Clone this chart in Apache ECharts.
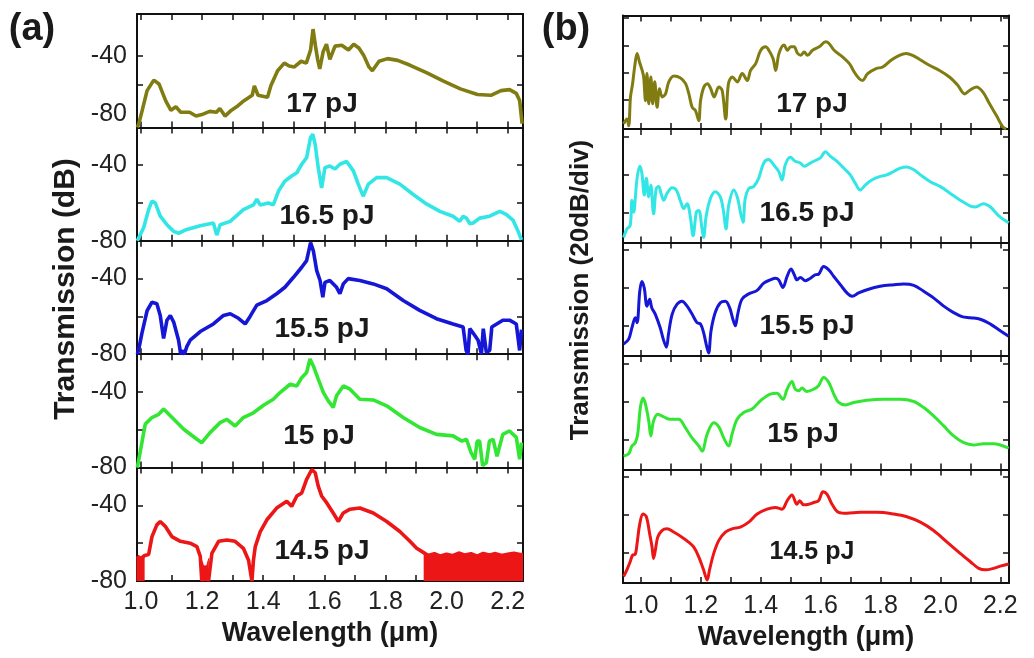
<!DOCTYPE html>
<html><head><meta charset="utf-8">
<script src="https://cdn.jsdelivr.net/npm/echarts@6/dist/echarts.min.js"></script>
<style>html,body{margin:0;padding:0;background:#fff}#c{width:1034px;height:658px}</style>
</head><body><div id="c"></div>
<script>
// ---------- data ----------
const energies = ['17 pJ', '16.5 pJ', '15.5 pJ', '15 pJ', '14.5 pJ'];
const colors = ['#807c12', '#33e6e6', '#1616d6', '#33e633', '#ec1616'];
const xTickValues = [1.0, 1.1, 1.2, 1.3, 1.4, 1.5, 1.6, 1.7, 1.8, 1.9, 2.0, 2.1, 2.2];
const xLabelValues = [1.0, 1.2, 1.4, 1.6, 1.8, 2.0, 2.2];
const yTickA = [-60, -40];
const yLabelA = [-80, -40];
const yTickB = [0, -20, -40];
const yTickB1 = [20, 0, -20, -40];
// y ranges of each stacked panel (top to bottom)
const yRangeA = [[-89, -11], [-80, -20], [-80, -20], [-80, -20], [-80, -20]];
const yRangeB = [[-61.3, 21.9], [-56, 4], [-56, 4], [-56, 4], [-56, 4]];

// (a) measured spectra, dB
const a17 = [[0.988,-89],[0.993,-86.4],[1.004,-77.3],[1.020,-63.7],[1.042,-56.5],[1.059,-59.1],[1.081,-70.8],[1.098,-77.3],[1.114,-74.7],[1.130,-78.6],[1.159,-78.6],[1.180,-81.2],[1.203,-79.9],[1.225,-78],[1.247,-78.6],[1.258,-76],[1.275,-81.2],[1.295,-77.3],[1.314,-74.7],[1.336,-70.8],[1.364,-66.9],[1.371,-60.4],[1.383,-66.9],[1.414,-68.2],[1.425,-60.4],[1.447,-50],[1.469,-44.8],[1.485,-46.8],[1.502,-47.4],[1.524,-43.5],[1.541,-44.8],[1.555,-35.7],[1.563,-21.4],[1.571,-33.1],[1.578,-42.2],[1.585,-48.7],[1.596,-37],[1.607,-31.8],[1.618,-42.2],[1.635,-33.1],[1.657,-32.5],[1.679,-35.7],[1.696,-31.8],[1.713,-34.4],[1.729,-39.6],[1.746,-47.4],[1.757,-50],[1.779,-43.5],[1.807,-41.7],[1.840,-42.9],[1.879,-46.1],[1.934,-51.3],[1.990,-57.2],[2.045,-62.5],[2.101,-66.4],[2.145,-66.9],[2.178,-63.7],[2.206,-63],[2.228,-65.6],[2.239,-70.5],[2.247,-86.4]];
const a165 = [[0.988,-80],[0.992,-79.5],[1.009,-73],[1.025,-63.5],[1.036,-59],[1.047,-60],[1.063,-67],[1.085,-71.5],[1.107,-75],[1.123,-76],[1.150,-74],[1.194,-72],[1.237,-70.6],[1.248,-77],[1.259,-71.5],[1.292,-69.7],[1.335,-63.5],[1.368,-61],[1.379,-58],[1.390,-61],[1.417,-60],[1.433,-61],[1.450,-53.7],[1.471,-48.4],[1.493,-45.7],[1.510,-44],[1.526,-39.5],[1.542,-36],[1.555,-25.3],[1.562,-23.6],[1.570,-29],[1.580,-41.3],[1.591,-52],[1.602,-41.3],[1.618,-40.4],[1.635,-42],[1.651,-39.5],[1.673,-38],[1.695,-43],[1.711,-50],[1.727,-56.4],[1.744,-50],[1.771,-46.6],[1.804,-46.6],[1.847,-50],[1.891,-55.5],[1.934,-60.5],[1.978,-64.4],[2.021,-67],[2.043,-69.7],[2.054,-67],[2.065,-68],[2.076,-71],[2.087,-70.6],[2.108,-68],[2.141,-67],[2.174,-64.4],[2.195,-66],[2.217,-69],[2.234,-75],[2.245,-79.5]];
const a155 = [[0.988,-80],[0.992,-78],[1.003,-69],[1.020,-57],[1.036,-52.5],[1.052,-53.3],[1.063,-59.5],[1.074,-71.7],[1.085,-62],[1.096,-59.5],[1.107,-63],[1.123,-72.6],[1.130,-80],[1.134,-78],[1.142,-80],[1.150,-76],[1.161,-72.6],[1.194,-68],[1.237,-64],[1.270,-59.5],[1.292,-58.6],[1.319,-61],[1.341,-64],[1.357,-60],[1.379,-54],[1.412,-51.6],[1.444,-48],[1.471,-44.6],[1.499,-39.3],[1.526,-34],[1.542,-30.5],[1.555,-21],[1.564,-25.3],[1.575,-35.8],[1.586,-41],[1.595,-49.8],[1.602,-42],[1.618,-41],[1.640,-44.6],[1.651,-48],[1.662,-42.8],[1.678,-40],[1.716,-41],[1.760,-42.8],[1.804,-45.4],[1.858,-51.6],[1.912,-56.8],[1.967,-61.2],[2.021,-64],[2.054,-65.6],[2.064,-78],[2.070,-80],[2.076,-66.5],[2.092,-70],[2.103,-72.6],[2.114,-80],[2.120,-66.5],[2.130,-79],[2.141,-78],[2.148,-65.6],[2.184,-62],[2.206,-62],[2.228,-64],[2.239,-78],[2.245,-67]];
const a15 = [[0.988,-80],[0.992,-79],[1.003,-66.8],[1.014,-57],[1.036,-53.5],[1.058,-51.8],[1.074,-49],[1.096,-52.6],[1.140,-59.7],[1.183,-65],[1.199,-66.8],[1.226,-61.5],[1.259,-56.2],[1.281,-54.5],[1.308,-58],[1.335,-53.5],[1.368,-51],[1.401,-47],[1.433,-43.8],[1.455,-40.3],[1.488,-35.9],[1.510,-36.8],[1.526,-32.4],[1.542,-29.7],[1.553,-22.5],[1.564,-26.2],[1.580,-33.2],[1.597,-40.3],[1.613,-44.7],[1.629,-48.2],[1.640,-42],[1.662,-36.8],[1.684,-38.5],[1.716,-43.8],[1.760,-44.2],[1.804,-47.3],[1.858,-53.5],[1.912,-58.8],[1.967,-62.4],[2.021,-63.2],[2.050,-66],[2.065,-65],[2.080,-72],[2.092,-75.6],[2.100,-66],[2.108,-65.9],[2.118,-79],[2.130,-77.4],[2.140,-66],[2.152,-65],[2.165,-74],[2.184,-62.4],[2.206,-60.6],[2.228,-64],[2.239,-75.6],[2.245,-66.8]];
const a145 = [[0.988,-67],[1.000,-68],[1.012,-66.5],[1.025,-66],[1.036,-56.5],[1.052,-50.3],[1.063,-48.5],[1.080,-51.2],[1.101,-56.5],[1.129,-59],[1.161,-60],[1.183,-61.8],[1.194,-67],[1.199,-80],[1.210,-74],[1.221,-80],[1.232,-65.4],[1.254,-59],[1.281,-58.3],[1.308,-59],[1.335,-62.7],[1.352,-69],[1.363,-80],[1.368,-69],[1.374,-61.8],[1.390,-54],[1.412,-47.6],[1.444,-41.4],[1.477,-37.8],[1.493,-40.5],[1.510,-35],[1.526,-33.4],[1.542,-26.2],[1.559,-21],[1.570,-22.7],[1.580,-29.8],[1.591,-35],[1.608,-38.7],[1.629,-44],[1.646,-48.5],[1.662,-44],[1.684,-42],[1.716,-41.4],[1.760,-44],[1.804,-48.5],[1.847,-53.8],[1.880,-59],[1.902,-62.7],[1.925,-65],[1.940,-66.5],[1.960,-65.5],[1.980,-66.8],[2.000,-65.8],[2.020,-66.6],[2.040,-65.2],[2.060,-66.3],[2.080,-65.6],[2.100,-66.9],[2.120,-65.4],[2.140,-66.2],[2.160,-65.5],[2.180,-66.5],[2.200,-65.8],[2.220,-65.3],[2.240,-66],[2.250,-66]];
const a145floorLeft = [[0.985,-67],[0.993,-68],[1.003,-67],[1.012,-66.5]];
const a145floorDip = [[1.194,-67],[1.205,-72],[1.215,-72],[1.222,-68]];
const a145floorRight = [[1.925,-65],[1.940,-66.5],[1.960,-65.5],[1.980,-66.8],[2.000,-65.8],[2.020,-66.6],[2.040,-65.2],[2.060,-66.3],[2.080,-65.6],[2.100,-66.9],[2.120,-65.4],[2.140,-66.2],[2.160,-65.5],[2.180,-66.5],[2.200,-65.8],[2.220,-65.3],[2.240,-66],[2.250,-66]];

// (b) simulated spectra, relative dB (20 dB/div)
const b17 = [[0.942,-57.5],[0.953,-53.9],[0.959,-58.8],[0.965,-37.7],[0.972,-28],[0.979,-15.5],[0.987,-5.8],[0.995,-12.1],[1.004,-18.3],[1.009,-23.1],[1.015,-40.5],[1.020,-20.6],[1.026,-42.8],[1.033,-23.1],[1.039,-42.8],[1.046,-26.6],[1.054,-45.3],[1.062,-31.7],[1.071,-37.7],[1.082,-35.5],[1.093,-26.6],[1.110,-22.4],[1.132,-23.8],[1.149,-28],[1.160,-35.5],[1.171,-45.3],[1.182,-47.7],[1.193,-55.2],[1.199,-40.5],[1.210,-30.5],[1.222,-28],[1.233,-31.7],[1.244,-37.7],[1.260,-30.5],[1.271,-32.8],[1.283,-53.9],[1.292,-28],[1.305,-23.1],[1.322,-26.7],[1.338,-20.6],[1.355,-25.6],[1.366,-18.3],[1.383,-13.3],[1.400,-3.5],[1.416,-1],[1.427,-3.5],[1.441,-9.6],[1.450,-18.3],[1.461,-5.8],[1.478,0.3],[1.489,-3.5],[1.500,-1],[1.511,-1],[1.523,-5.8],[1.534,-7.2],[1.545,-4.7],[1.556,-7.2],[1.573,-3.5],[1.595,-1],[1.617,2.8],[1.628,1.5],[1.645,-3.5],[1.673,-8.3],[1.696,-13.3],[1.712,-19.4],[1.729,-24.4],[1.740,-25.6],[1.757,-20.6],[1.785,-16.9],[1.807,-15.8],[1.835,-10.8],[1.863,-7.2],[1.885,-5.8],[1.907,-7.2],[1.935,-10.8],[1.963,-14.5],[1.997,-18.3],[2.030,-23.1],[2.058,-29.2],[2.081,-35.5],[2.097,-33],[2.120,-30.5],[2.142,-34.2],[2.164,-42.8],[2.187,-51.4],[2.209,-59.9],[2.220,-61.2]];
const b165 = [[0.942,-53.3],[0.953,-48.8],[0.964,-47],[0.970,-33.6],[0.976,-39.9],[0.981,-32.7],[0.987,-22],[0.996,-15.7],[1.003,-19.3],[1.011,-30.9],[1.018,-22],[1.026,-31.8],[1.033,-25.6],[1.042,-40.8],[1.051,-27.4],[1.059,-26.4],[1.067,-30],[1.076,-33.6],[1.087,-30],[1.104,-27],[1.118,-28.2],[1.131,-33.6],[1.143,-38],[1.154,-35.4],[1.165,-42.6],[1.174,-52.4],[1.185,-39.9],[1.193,-39],[1.204,-48.8],[1.209,-53.3],[1.218,-41.7],[1.232,-32.7],[1.248,-29.1],[1.265,-31.8],[1.276,-39.9],[1.284,-48.8],[1.293,-36.3],[1.310,-28.2],[1.323,-32.7],[1.332,-39.9],[1.341,-45.3],[1.348,-32.7],[1.360,-27.4],[1.376,-26.4],[1.393,-22],[1.410,-13.9],[1.426,-12.1],[1.443,-14.8],[1.460,-18.4],[1.471,-22.9],[1.482,-14.8],[1.499,-10.9],[1.515,-13],[1.532,-13.9],[1.545,-15.7],[1.560,-14.5],[1.577,-13],[1.599,-11.2],[1.616,-8],[1.632,-10.3],[1.655,-13],[1.677,-16.6],[1.699,-20.2],[1.716,-24.7],[1.732,-28.2],[1.749,-25.6],[1.771,-22.9],[1.799,-21],[1.821,-20.2],[1.844,-18.4],[1.866,-16.6],[1.888,-16],[1.911,-17.5],[1.933,-20.2],[1.966,-23.8],[2.000,-26.4],[2.033,-30],[2.066,-33.6],[2.100,-36.7],[2.117,-37.2],[2.144,-35.4],[2.167,-37.2],[2.194,-41.7],[2.228,-45.5]];
const b155 = [[0.942,-49.6],[0.959,-47],[0.970,-40.9],[0.981,-35.7],[0.987,-38.3],[0.996,-21.7],[1.003,-16.5],[1.011,-20],[1.020,-29.6],[1.029,-26],[1.036,-30.4],[1.048,-33.9],[1.064,-40.9],[1.076,-47.8],[1.085,-51.3],[1.092,-44.3],[1.104,-33.9],[1.120,-28.7],[1.137,-27],[1.154,-29.6],[1.171,-33.9],[1.187,-38.3],[1.199,-39.1],[1.209,-43.5],[1.220,-51.3],[1.226,-54.4],[1.234,-42.6],[1.248,-33],[1.265,-27.8],[1.282,-27],[1.296,-30.4],[1.307,-36.5],[1.315,-40],[1.323,-33.9],[1.337,-26],[1.360,-23.1],[1.387,-21.4],[1.410,-17.4],[1.432,-15.7],[1.449,-14.8],[1.460,-15.7],[1.474,-19.7],[1.488,-13.9],[1.501,-9.9],[1.512,-13],[1.521,-15.7],[1.532,-14.4],[1.549,-16.2],[1.566,-14.8],[1.582,-13],[1.593,-12.7],[1.610,-8.7],[1.627,-10.4],[1.644,-13.9],[1.666,-18.3],[1.688,-22.6],[1.705,-24.3],[1.727,-22.6],[1.755,-20.9],[1.799,-19.1],[1.844,-18.3],[1.877,-17.9],[1.911,-18.6],[1.944,-21.7],[1.977,-25.2],[2.011,-29.6],[2.044,-33],[2.072,-35.1],[2.100,-35.7],[2.133,-36.5],[2.167,-39.1],[2.200,-42.6],[2.228,-45.5]];
const b15 = [[0.942,-48.8],[0.959,-47.6],[0.970,-43.5],[0.981,-41.8],[0.989,-37.3],[0.998,-23.2],[1.007,-18.2],[1.015,-21.4],[1.026,-30.3],[1.033,-38.2],[1.042,-30.3],[1.056,-26.7],[1.076,-28.1],[1.098,-29.4],[1.126,-29.4],[1.148,-33.8],[1.170,-39.1],[1.193,-43.5],[1.204,-46.2],[1.221,-37.3],[1.243,-31.2],[1.260,-33.4],[1.276,-39.1],[1.293,-43.5],[1.304,-37.3],[1.321,-29.4],[1.343,-25.8],[1.371,-24],[1.399,-19.6],[1.432,-16.1],[1.454,-15.7],[1.474,-18.8],[1.488,-13.5],[1.504,-9.4],[1.515,-13.5],[1.527,-14.3],[1.538,-12.9],[1.554,-14.7],[1.577,-13.5],[1.593,-11.7],[1.610,-7.3],[1.627,-9.9],[1.644,-16.1],[1.660,-20.5],[1.683,-21.8],[1.710,-20.5],[1.755,-19.3],[1.810,-18.8],[1.866,-18.8],[1.911,-20],[1.944,-23.2],[1.977,-27.6],[2.011,-32.9],[2.044,-38.2],[2.078,-41.8],[2.111,-43],[2.144,-42.3],[2.178,-42.3],[2.200,-43],[2.228,-44.6]];
const b145 = [[0.942,-52.5],[0.953,-49],[0.964,-44.7],[0.972,-41.2],[0.981,-40.7],[0.987,-35.1],[0.996,-24.7],[1.007,-19.5],[1.018,-20.9],[1.029,-29.9],[1.037,-36.9],[1.042,-43],[1.048,-38.6],[1.056,-31.7],[1.070,-28.2],[1.087,-27.3],[1.109,-29],[1.137,-31.7],[1.159,-34.3],[1.176,-36.9],[1.193,-42.1],[1.209,-49],[1.221,-54.3],[1.229,-49],[1.243,-40.3],[1.260,-33.4],[1.282,-29],[1.304,-27.3],[1.332,-26.4],[1.360,-23.8],[1.388,-19.5],[1.421,-16.9],[1.449,-16],[1.471,-16.9],[1.488,-12.5],[1.504,-9.4],[1.521,-14.3],[1.530,-12.5],[1.543,-14.6],[1.560,-14.3],[1.577,-13.4],[1.593,-12.5],[1.608,-7.7],[1.621,-9],[1.638,-14.3],[1.660,-18.6],[1.688,-19.1],[1.732,-18.6],[1.788,-18.6],[1.844,-19.5],[1.888,-20.9],[1.933,-23.8],[1.977,-28.2],[2.022,-34.3],[2.066,-40.3],[2.100,-44.7],[2.128,-48.2],[2.150,-49],[2.178,-48.2],[2.200,-47],[2.228,-45.9]];

const seriesA = [a17, a165, a155, a15, a145];
const seriesB = [b17, b165, b155, b15, b145];

// ---------- layout ----------
const A = {left: 137, top: 14, w: 386, h: 113.4, xmin: 0.987, xmax: 2.25, yr: yRangeA};
const B = {left: 623, top: 15.6, w: 386, h: 113.5, xmin: 0.94, xmax: 2.229, yr: yRangeB};
const FONT = '"Liberation Sans", Arial, sans-serif';

const grid = [], xAxis = [], yAxis = [], series = [];
const line = {show: true, onZero: false, lineStyle: {color: '#111', width: 2}};
function addPanel(P, isA, data) {
  for (let i = 0; i < 5; i++) {
    const g = grid.length;
    grid.push({left: P.left, top: P.top + P.h * i, width: P.w, height: P.h, containLabel: false});
    const last = i === 4;
    const xBase = {type: 'value', gridIndex: g, min: P.xmin, max: P.xmax, splitLine: {show: false}, axisLine: line,
      axisTick: {show: true, inside: true, length: 6, customValues: xTickValues, lineStyle: {color: '#111', width: 1.5}}};
    xAxis.push(Object.assign({}, xBase, {position: 'bottom',
      axisLabel: {show: last, customValues: xLabelValues, formatter: v => v.toFixed(1), fontFamily: FONT, fontSize: 25, color: '#222', margin: isA ? 9 : 11}}));
    xAxis.push(Object.assign({}, xBase, {position: 'top', axisLabel: {show: false}}));
    const ticks = isA ? yTickA : (i === 0 ? yTickB1 : yTickB);
    const yBase = {type: 'value', gridIndex: g, min: P.yr[i][0], max: P.yr[i][1], splitLine: {show: false}, axisLine: line,
      axisTick: {show: true, inside: true, length: 6, customValues: ticks, lineStyle: {color: '#111', width: 1.5}}};
    yAxis.push(Object.assign({}, yBase, {position: 'left',
      axisLabel: {show: isA, customValues: yLabelA, fontFamily: FONT, fontSize: 25, color: '#222', margin: 10}}));
    yAxis.push(Object.assign({}, yBase, {position: 'right', axisLabel: {show: false}}));
    const xi = 2 * g, yi = 2 * g;
    series.push({type: 'line', xAxisIndex: xi, yAxisIndex: yi, data: data[i], showSymbol: false, clip: true,
      smooth: isA ? false : 0.35, lineStyle: {color: colors[i], width: isA ? 3.6 : 3}, z: 3});
    if (isA && i === 4) {
      [a145floorLeft, a145floorDip, a145floorRight].forEach(d => series.push({type: 'line', xAxisIndex: xi, yAxisIndex: yi, data: d,
        showSymbol: false, clip: true, lineStyle: {color: colors[4], width: 1}, areaStyle: {color: colors[4], opacity: 1, origin: 'start'}, z: 2}));
    }
  }
}
addPanel(A, true, seriesA);
addPanel(B, false, seriesB);

const labelPosA = [[322, 104], [327, 216], [322, 329], [319, 436], [322, 551]];
const labelPosB = [[812, 104], [807, 213], [807, 326], [803, 434], [812, 552]];
const graphic = [];
function txt(s, x, y, size, rot) {
  graphic.push({type: 'text', x: x, y: y, rotation: rot || 0, z: 100,
    style: {text: s, font: 'bold ' + size + 'px ' + FONT, fill: '#1a1a1a', align: 'center', verticalAlign: 'middle'}});
}
energies.forEach((e, i) => { txt(e, labelPosA[i][0], labelPosA[i][1], 28); txt(e, labelPosB[i][0], labelPosB[i][1], i === 4 ? 25 : 28); });
txt('(a)', 32, 30, 38);
txt('(b)', 566, 30, 38);
txt('Wavelength (\u03bcm)', 330, 634, 27);
txt('Wavelength (\u03bcm)', 806, 638, 27);
txt('Transmission (dB)', 66, 289, 30, Math.PI / 2);
txt('Transmission (20dB/div)', 581, 290, 26, Math.PI / 2);

const chart = echarts.init(document.getElementById('c'), null, {renderer: 'canvas'});
chart.setOption({animation: false, backgroundColor: '#fff', grid, xAxis, yAxis, series, graphic});
</script></body></html>
